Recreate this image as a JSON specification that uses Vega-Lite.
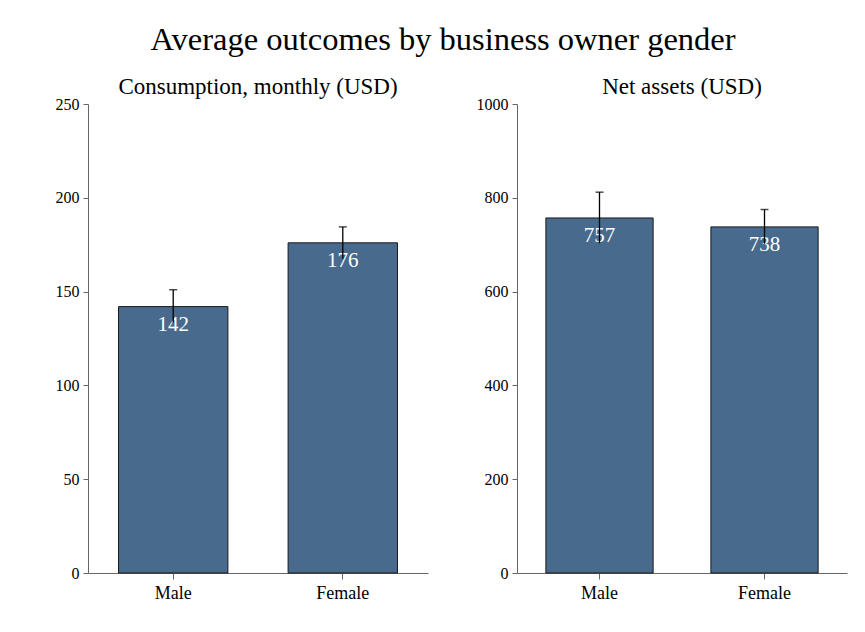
{
  "$schema": "https://vega.github.io/schema/vega-lite/v6.json",
  "background": "white",
  "padding": {"left": 55, "top": 23, "right": 10, "bottom": 10},
  "title": {"text": "Average outcomes by business owner gender", "fontSize": 32.5, "font": "Liberation Serif", "fontWeight": "normal", "color": "black", "anchor": "middle", "offset": 20, "dx": -8},
  "datasets": {
    "d": [
      {"panel": "Consumption", "gender": "Male", "value": 142, "lo": 133.5, "hi": 151},
      {"panel": "Consumption", "gender": "Female", "value": 176, "lo": 167.5, "hi": 184.5},
      {"panel": "Net assets", "gender": "Male", "value": 757, "lo": 703, "hi": 812},
      {"panel": "Net assets", "gender": "Female", "value": 738, "lo": 702, "hi": 775}
    ]
  },
  "config": {
    "font": "Liberation Serif",
    "view": {"stroke": null},
    "axis": {"labelFont": "Liberation Serif", "labelColor": "black", "domainColor": "#666666", "tickColor": "#666666", "grid": false, "title": null},
    "title": {"font": "Liberation Serif", "fontWeight": "normal", "color": "black"}
  },
  "spacing": 48,
  "hconcat": [
    {
      "width": 340,
      "height": 469,
      "title": {"text": "Consumption, monthly (USD)", "fontSize": 23, "offset": -3},
      "data": {"name": "d"},
      "transform": [{"filter": "datum.panel === 'Consumption'"}],
      "encoding": {
        "x": {"field": "gender", "type": "nominal", "sort": ["Male", "Female"], "scale": {"paddingInner": 0.355, "paddingOuter": 0.18}, "axis": {"labelAngle": 0, "labelFontSize": 18, "labelPadding": 5, "tickSize": 6}}
      },
      "layer": [
        {"mark": {"type": "bar", "color": "#486a8c", "stroke": "#1a1a1a", "strokeWidth": 1},
         "encoding": {"y": {"field": "value", "type": "quantitative", "scale": {"domain": [0, 250], "nice": false}, "axis": {"values": [0, 50, 100, 150, 200, 250], "format": "d", "labelFontSize": 16, "tickSize": 5, "labelPadding": 4}}}},
        {"mark": {"type": "text", "color": "white", "fontSize": 21, "baseline": "top", "dy": 7},
         "encoding": {"y": {"field": "value", "type": "quantitative"}, "text": {"field": "value", "type": "quantitative"}}},
        {"mark": {"type": "rule", "color": "black", "strokeWidth": 1.3},
         "encoding": {"y": {"field": "lo", "type": "quantitative"}, "y2": {"field": "hi"}}},
        {"mark": {"type": "tick", "color": "black", "orient": "horizontal", "size": 8, "thickness": 1.5},
         "encoding": {"y": {"field": "hi", "type": "quantitative"}}}
      ]
    },
    {
      "width": 330,
      "height": 469,
      "title": {"text": "Net assets (USD)", "fontSize": 23, "offset": -3},
      "data": {"name": "d"},
      "transform": [{"filter": "datum.panel === 'Net assets'"}],
      "encoding": {
        "x": {"field": "gender", "type": "nominal", "sort": ["Male", "Female"], "scale": {"paddingInner": 0.35, "paddingOuter": 0.175}, "axis": {"labelAngle": 0, "labelFontSize": 18, "labelPadding": 5, "tickSize": 6}}
      },
      "layer": [
        {"mark": {"type": "bar", "color": "#486a8c", "stroke": "#1a1a1a", "strokeWidth": 1},
         "encoding": {"y": {"field": "value", "type": "quantitative", "scale": {"domain": [0, 1000], "nice": false}, "axis": {"values": [0, 200, 400, 600, 800, 1000], "format": "d", "labelFontSize": 16, "tickSize": 5, "labelPadding": 4}}}},
        {"mark": {"type": "text", "color": "white", "fontSize": 21, "baseline": "top", "dy": 7},
         "encoding": {"y": {"field": "value", "type": "quantitative"}, "text": {"field": "value", "type": "quantitative"}}},
        {"mark": {"type": "rule", "color": "black", "strokeWidth": 1.3},
         "encoding": {"y": {"field": "lo", "type": "quantitative"}, "y2": {"field": "hi"}}},
        {"mark": {"type": "tick", "color": "black", "orient": "horizontal", "size": 8, "thickness": 1.5},
         "encoding": {"y": {"field": "hi", "type": "quantitative"}}}
      ]
    }
  ]
}
